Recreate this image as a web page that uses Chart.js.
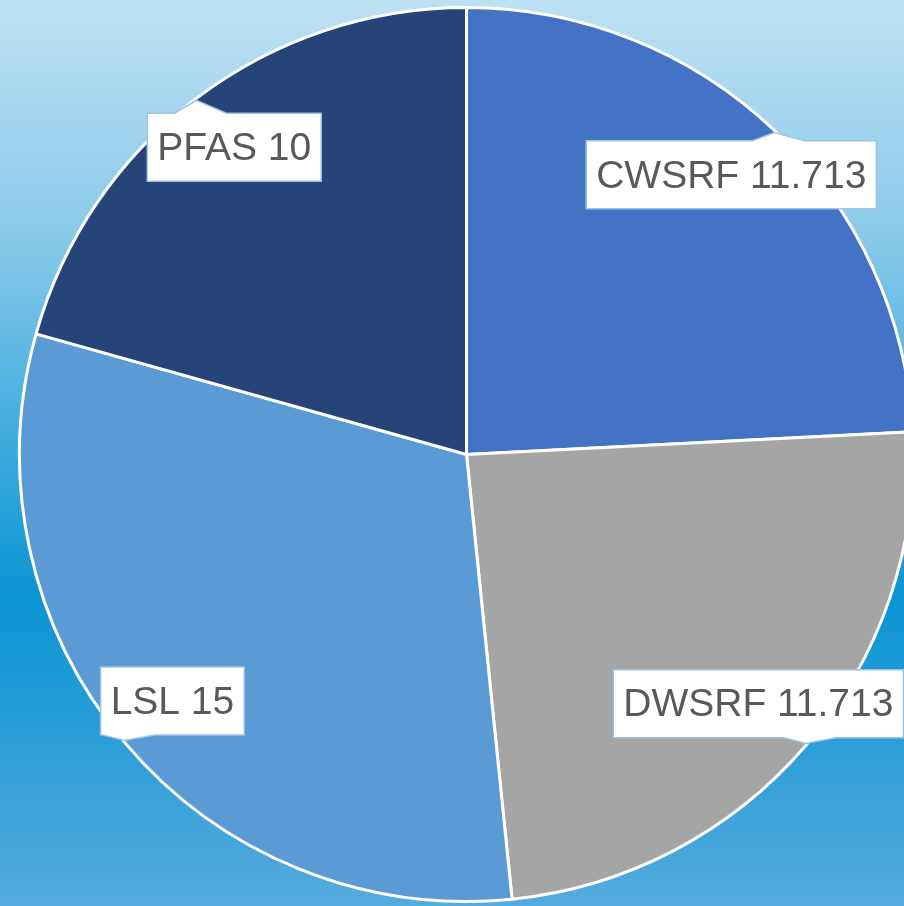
<!DOCTYPE html>
<html>
<head>
<meta charset="utf-8">
<script src="https://cdn.jsdelivr.net/npm/chart.js@4.4.1/dist/chart.umd.min.js"></script>
<style>
  html, body { margin: 0; padding: 0; overflow: hidden; }
  body {
    width: 904px; height: 906px;
    background: linear-gradient(to bottom, #bee1f2 0%, #8ccbea 25%, #3aa9dd 50%, #0a95d3 66%, #2d9ed8 82%, #55abdd 100%);
  }
  #wrap { position: absolute; left: 0; top: 0; width: 934px; height: 906px; }
</style>
</head>
<body>
<div id="wrap"><canvas id="myChart"></canvas></div>
<script>
const labels = ["CWSRF", "DWSRF", "LSL", "PFAS"];
const values = [11.713, 11.713, 15, 10];
const colors = ["#4472c4", "#a5a5a5", "#5b9bd5", "#264478"];

// callouts drawn after the slices, anchored to each arc
const calloutLabels = {
  id: "calloutLabels",
  afterDatasetsDraw(chart) {
    const ctx = chart.ctx;
    const meta = chart.getDatasetMeta(0);
    ctx.save();
    ctx.font = "39px 'Liberation Sans', Arial, sans-serif";
    ctx.textBaseline = "middle";
    ctx.textAlign = "center";
    meta.data.forEach((arc, i) => {
      const mid = (arc.startAngle + arc.endAngle) / 2;
      const r = arc.outerRadius;
      const cx = arc.x + Math.cos(mid) * r * 0.86;
      const cy = arc.y + Math.sin(mid) * r * 0.86 - 1;
      const ax = arc.x + Math.cos(mid) * r;
      const ay = arc.y + Math.sin(mid) * r;
      const text = labels[i] + " " + values[i];
      const w = ctx.measureText(text).width + 20;
      const h = 68;
      const L = cx - w / 2, R = cx + w / 2, T = cy - h / 2, B = cy + h / 2;
      const b1 = Math.max(L + 2, ax - 22), b2 = Math.min(R - 2, ax + 30);
      ctx.beginPath();
      if (ay < T) {
        ctx.moveTo(L, T); ctx.lineTo(b1, T); ctx.lineTo(ax, ay + 2); ctx.lineTo(b2, T);
        ctx.lineTo(R, T); ctx.lineTo(R, B); ctx.lineTo(L, B);
      } else {
        ctx.moveTo(L, T); ctx.lineTo(R, T); ctx.lineTo(R, B); ctx.lineTo(b2, B);
        ctx.lineTo(ax, ay - 2); ctx.lineTo(b1, B); ctx.lineTo(L, B);
      }
      ctx.closePath();
      ctx.fillStyle = "#ffffff";
      ctx.fill();
      ctx.lineWidth = 1.5;
      ctx.strokeStyle = "#9dc3e6";
      ctx.stroke();
      ctx.fillStyle = "#595959";
      ctx.fillText(text, cx, cy + 2);
    });
    ctx.restore();
  }
};

new Chart(document.getElementById("myChart").getContext("2d"), {
  type: "pie",
  data: {
    labels: labels,
    datasets: [{
      data: values,
      backgroundColor: colors,
      borderColor: "#ffffff",
      borderWidth: 3
    }]
  },
  options: {
    responsive: true,
    maintainAspectRatio: false,
    animation: false,
    layout: { padding: { left: 18, right: 19, top: 6, bottom: 3 } },
    plugins: {
      legend: { display: false },
      tooltip: { enabled: false }
    }
  },
  plugins: [calloutLabels]
});
</script>
</body>
</html>
